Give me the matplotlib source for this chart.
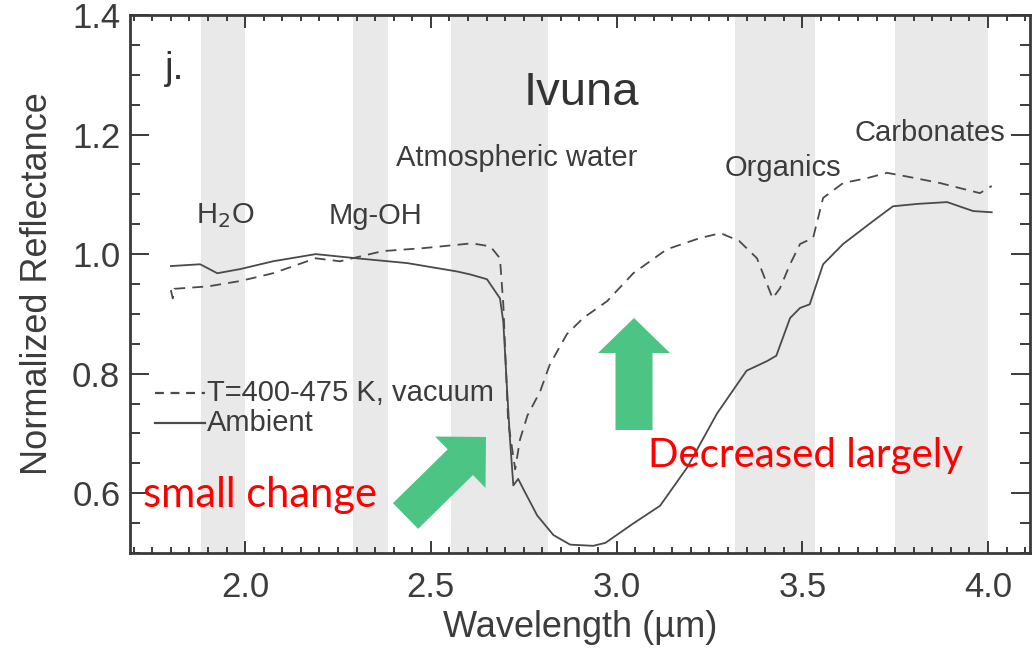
import numpy as np
import matplotlib
matplotlib.use("Agg")
import matplotlib.pyplot as plt
from matplotlib.patches import Polygon
from matplotlib.ticker import MultipleLocator, FormatStrFormatter

plt.rcParams["font.family"] = ["Liberation Sans", "DejaVu Sans"]

# spectra of Ivuna: ambient vs heated under vacuum
ambient_wl = [1.80, 1.879, 1.925, 1.987, 2.075, 2.19, 2.30, 2.436, 2.57, 2.606,
              2.651, 2.686, 2.695, 2.705, 2.713, 2.722, 2.735, 2.749, 2.786, 2.83,
              2.875, 2.937, 2.97, 3.044, 3.117, 3.19, 3.27, 3.35, 3.405, 3.43,
              3.467, 3.494, 3.52, 3.556, 3.61, 3.69, 3.744, 3.81, 3.89, 3.96, 4.01]
ambient_refl = [0.980, 0.983, 0.968, 0.975, 0.988, 1.000, 0.993, 0.985, 0.971, 0.966,
                0.958, 0.926, 0.887, 0.775, 0.690, 0.613, 0.624, 0.607, 0.563, 0.530,
                0.514, 0.512, 0.517, 0.549, 0.579, 0.643, 0.733, 0.805, 0.821, 0.830,
                0.893, 0.910, 0.916, 0.983, 1.017, 1.055, 1.080, 1.084, 1.087, 1.072, 1.070]

heated_wl = [1.80, 1.805, 1.81, 1.90, 1.987, 2.075, 2.19, 2.255, 2.37, 2.48,
             2.61, 2.66, 2.686, 2.695, 2.708, 2.727, 2.74, 2.76, 2.794, 2.82,
             2.866, 2.91, 2.974, 3.045, 3.135, 3.225, 3.28, 3.33, 3.378, 3.42,
             3.44, 3.467, 3.494, 3.529, 3.556, 3.61, 3.674, 3.728, 3.78, 3.87,
             3.978, 4.01]
heated_refl = [0.940, 0.926, 0.942, 0.946, 0.955, 0.968, 0.993, 0.988, 1.005, 1.010,
               1.018, 1.013, 0.993, 0.916, 0.720, 0.640, 0.690, 0.730, 0.770, 0.815,
               0.866, 0.893, 0.921, 0.968, 1.008, 1.027, 1.035, 1.022, 0.993, 0.926,
               0.943, 0.983, 1.017, 1.027, 1.094, 1.119, 1.127, 1.136, 1.130, 1.119,
               1.102, 1.114]

# absorption band windows (µm) and their labels
bands = [(1.88, 2.00), (2.29, 2.385), (2.555, 2.815), (3.32, 3.535), (3.75, 4.00)]
band_labels = ["H$_2$O", "Mg-OH", "Atmospheric water", "Organics", "Carbonates"]
label_pos = [(1.946, 1.064), (2.35, 1.064), (2.73, 1.160), (3.448, 1.144), (3.844, 1.202)]

W, H = 1033, 648
fig = plt.figure(figsize=(W / 100, H / 100), dpi=100)
ax = fig.add_axes([130 / W, 1 - 553 / H, 900 / W, 538 / H])

txt = "#3c3c3c"
ink = "#4a4a4a"

for lo, hi in bands:
    ax.axvspan(lo, hi, color="#e9e9e9", lw=0, zorder=0)

ax.plot(heated_wl, heated_refl, color=ink, lw=1.3, ls=(0, (6, 4)), zorder=3)
ax.plot(ambient_wl, ambient_refl, color=ink, lw=1.3, zorder=3)

for lab, (x, y) in zip(band_labels, label_pos):
    ax.text(x, y, lab, ha="center", va="center", fontsize=21, color=txt)

ax.text(2.905, 1.27, "Ivuna", ha="center", va="center", fontsize=34, color="#333333")
ax.text(1.785, 1.31, "j.", ha="left", va="center", fontsize=28, color="#333333")

# hand-drawn style legend
ax.plot([0.028, 0.083], [0.297, 0.297], transform=ax.transAxes, color=ink,
        lw=1.6, ls=(0, (4, 3)))
ax.plot([0.028, 0.083], [0.242, 0.242], transform=ax.transAxes, color=ink, lw=1.6)
ax.text(0.0856, 0.297, "T=400-475 K, vacuum", transform=ax.transAxes,
        fontsize=21, color=txt, va="center")
ax.text(0.0856, 0.242, "Ambient", transform=ax.transAxes,
        fontsize=21, color=txt, va="center")

ax.set_xlim(1.690, 4.113)
ax.set_ylim(0.5, 1.4)
ax.xaxis.set_major_locator(MultipleLocator(0.5))
ax.xaxis.set_minor_locator(MultipleLocator(0.05))
ax.yaxis.set_major_locator(MultipleLocator(0.2))
ax.yaxis.set_minor_locator(MultipleLocator(0.05))
ax.xaxis.set_major_formatter(FormatStrFormatter("%.1f"))
ax.yaxis.set_major_formatter(FormatStrFormatter("%.1f"))

ax.tick_params(axis="both", which="both", direction="in", top=True, right=True,
               color="#3a3a3a", width=1.4, labelcolor=txt, labelsize=25)
ax.tick_params(axis="x", which="major", length=9, pad=13)
ax.tick_params(axis="x", which="minor", length=4.5)
ax.tick_params(axis="y", which="major", length=14, pad=7)
ax.tick_params(axis="y", which="minor", length=7)
for s in ax.spines.values():
    s.set_color("#3a3a3a")
    s.set_linewidth(2)

ax.set_xlabel("Wavelength (µm)", fontsize=26, color=txt, labelpad=4)
ax.set_ylabel("Normalized Reflectance", fontsize=26, color=txt, labelpad=12)


def block_arrow(tail, tip, body_w, head_w, head_len, color="#4cc584"):
    # arrow outline built in pixel space, then mapped to figure fraction
    tail = np.array(tail, float)
    tip = np.array(tip, float)
    d = (tip - tail) / np.linalg.norm(tip - tail)
    n = np.array([-d[1], d[0]])
    base = tip - d * head_len
    pts = [tail + n * body_w / 2, base + n * body_w / 2, base + n * head_w / 2, tip,
           base - n * head_w / 2, base - n * body_w / 2, tail - n * body_w / 2]
    pts = [(p[0] / W, 1 - p[1] / H) for p in pts]
    fig.patches.append(Polygon(pts, closed=True, transform=fig.transFigure,
                               facecolor=color, edgecolor="none", zorder=5))


block_arrow((405.5, 516), (486, 437), 36, 72, 36)
block_arrow((634, 430), (634, 318), 37, 72, 35)

fig.text(143 / W, 1 - 507 / H, "small change", color="red", fontsize=30,
         family=["Lato", "DejaVu Sans"], va="baseline")
fig.text(648 / W, 1 - 467 / H, "Decreased largely", color="red", fontsize=29,
         family=["Lato", "DejaVu Sans"], va="baseline")

fig.savefig("out.png", dpi=100)
